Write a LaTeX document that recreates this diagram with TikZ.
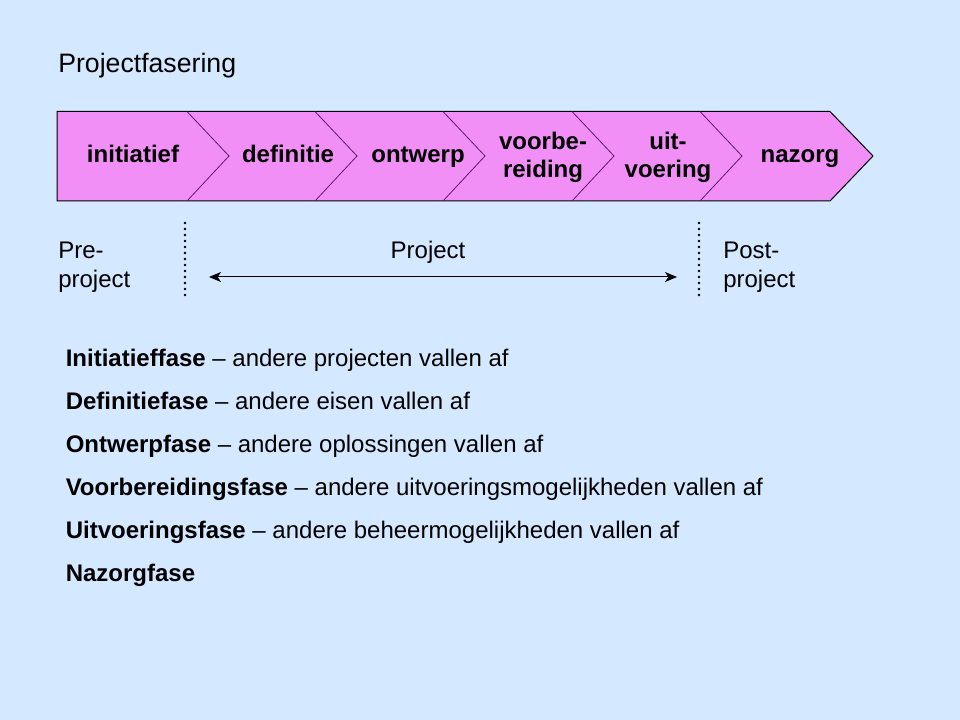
\documentclass[tikz,border=0pt]{standalone}
\usepackage{fontspec}
\setmainfont{Liberation Sans}
\usetikzlibrary{arrows.meta}

\definecolor{slide}{RGB}{212,232,255}
\definecolor{phasefill}{RGB}{242,143,247}
\definecolor{phaseline}{RGB}{96,24,104}

\tikzstyle{phase} = [inner sep=0pt,
align=center,
font=\fontsize{18}{21}\selectfont\bfseries]
\tikzstyle{side} = [inner sep=0pt,
align=left,
font=\fontsize{18}{21.6}\selectfont]
\tikzstyle{item} = [inner sep=0pt,
anchor=base west,
font=\fontsize{18}{21.6}\selectfont]
\tikzstyle{bound} = [dash pattern=on 0pt off 4.5pt,
line cap=round,
line width=2.1pt]

\begin{document}
\begin{tikzpicture}[x=0.75pt, y=-0.75pt]
\fill[slide] (0,0) rectangle (960,720);
\useasboundingbox (0,0) rectangle (960,720);

\node (title) [anchor=base west, inner sep=0pt, font=\fontsize{20}{24}\selectfont] at (58,72.5) {Projectfasering};

% chevrons
\draw [fill=phasefill, line width=0.75pt] (57,111.5) -- (830,111.5) -- (873,156) -- (830,201) -- (57,201) -- cycle;
\draw [phaseline, line width=0.6pt] (187,111.5) -- (229,156) -- (187,201)
  (315,111.5) -- (357,156) -- (315,201)
  (443,111.5) -- (485,156) -- (443,201)
  (572,111.5) -- (614,156) -- (572,201)
  (700,111.5) -- (742,156) -- (700,201);

\node (ini) [phase, anchor=base] at (133,163) {initiatief};
\node (def) [phase, anchor=base] at (288,163) {definitie};
\node (ont) [phase, anchor=base] at (418,163) {ontwerp};
\node (voo) [phase] at (543,157) {voorbe-\\reiding};
\node (uit) [phase] at (668,157) {uit-\\voering};
\node (naz) [phase, anchor=base] at (800,163) {nazorg};

% project span
\node (pre) [side, anchor=west] at (58,267) {Pre-\\project};
\node (project) [side, anchor=base] at (428,259) {Project};
\node (post) [side, anchor=west] at (723,267) {Post-\\project};

\coordinate (start top) at (185,223);
\coordinate (start bottom) at (185,298);
\coordinate (end top) at (699,223);
\coordinate (end bottom) at (699,298);
\draw [bound] (start top) -- (start bottom);
\draw [bound] (end top) -- (end bottom);

\coordinate (from) at (209,277);
\coordinate (to) at (677,277);
\draw [<->, >={Stealth[length=9pt, width=7.5pt, inset=2.5pt]}, line width=0.75pt] (from) -- (to);

% phases explained
\node (inifase) [item] at (65.5,366) {\textbf{Initiatieffase} – andere projecten vallen af};
\node (deffase) [item] at (65.5,409) {\textbf{Definitiefase} – andere eisen vallen af};
\node (ontfase) [item] at (65.5,452) {\textbf{Ontwerpfase} – andere oplossingen vallen af};
\node (voofase) [item] at (65.5,495) {\textbf{Voorbereidingsfase} – andere uitvoeringsmogelijkheden vallen af};
\node (uitfase) [item] at (65.5,538) {\textbf{Uitvoeringsfase} – andere beheermogelijkheden vallen af};
\node (nazfase) [item] at (65.5,581) {\textbf{Nazorgfase}};
\end{tikzpicture}
\end{document}
